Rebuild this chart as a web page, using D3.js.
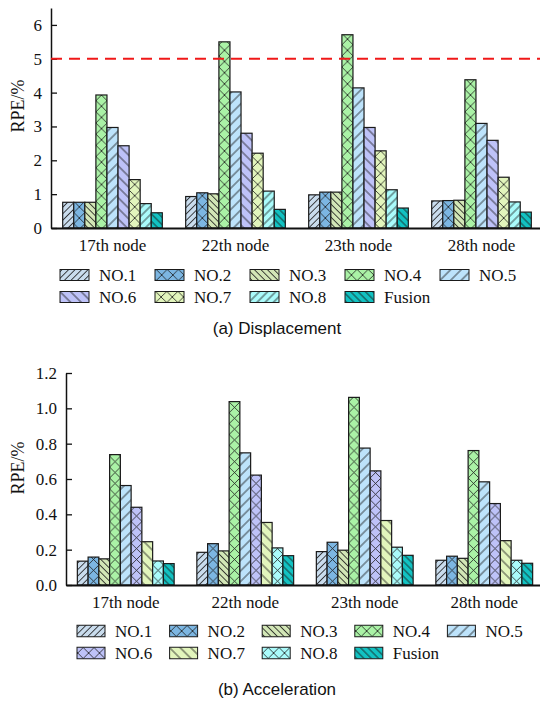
<!DOCTYPE html>
<html lang="en">
<head>
    <meta charset="UTF-8"/>
    <title>RPE bar charts</title>
    <script src="https://d3js.org/d3.v7.min.js"></script>
    <style>
        body { margin: 0; background: #fff; }
        .serif { font-family: "Liberation Serif", "Times New Roman", serif; }
        .sans { font-family: "Liberation Sans", Arial, sans-serif; }
    </style>
</head>
<body>
    <div id="chart"></div>

    <script>
        // categories and series
        var categories = ["17th node", "22th node", "23th node", "28th node"];
        var seriesNames = ["NO.1", "NO.2", "NO.3", "NO.4", "NO.5", "NO.6", "NO.7", "NO.8", "Fusion"];

        // values, one row per series, one column per node
        var displacement = [
            [0.76, 0.93, 0.98, 0.80],
            [0.76, 1.04, 1.06, 0.81],
            [0.76, 1.01, 1.06, 0.82],
            [3.93, 5.50, 5.71, 4.38],
            [2.97, 4.02, 4.14, 3.09],
            [2.43, 2.80, 2.97, 2.59],
            [1.43, 2.21, 2.28, 1.50],
            [0.72, 1.09, 1.13, 0.77],
            [0.45, 0.55, 0.59, 0.47]
        ];
        var acceleration = [
            [0.135, 0.185, 0.189, 0.140],
            [0.158, 0.234, 0.242, 0.163],
            [0.148, 0.193, 0.197, 0.151],
            [0.738, 1.038, 1.062, 0.761],
            [0.563, 0.748, 0.775, 0.584],
            [0.440, 0.622, 0.646, 0.461],
            [0.245, 0.354, 0.365, 0.251],
            [0.136, 0.210, 0.214, 0.140],
            [0.121, 0.166, 0.168, 0.123]
        ];

        // tick labels
        var dispTicks = [0, 1, 2, 3, 4, 5, 6];
        var accTicks = [0.0, 0.2, 0.4, 0.6, 0.8, 1.0, 1.2];
        var limitValue = 5;

        // fills
        var seriesColors = ["#c9dced", "#7cb6e2", "#d2e6b6", "#aaf2a6", "#bde3fb",
                            "#bec2f8", "#e2f5bc", "#aafbfb", "#12c2c2"];
        var dispPatterns = ["fwd1", "cross", "back1", "cross", "fwd2", "back2", "cross", "fwd3", "back3"];
        var accPatterns  = ["fwd1", "cross", "back1", "cross", "fwd2", "cross", "back2", "cross", "back3"];
        var hatchGap = { fwd1: 4.6, fwd2: 7.5, fwd3: 5.8, back1: 4.6, back2: 7.5, back3: 5.2 };

        var w = 540;
        var h = 705;

        var svg = d3.select("#chart")
                    .append("svg")
                    .attr("width", w)
                    .attr("height", h);

        var defs = svg.append("defs");

        function makePattern(id, kind, color, tile, xOff) {
            var p = defs.append("pattern")
                        .attr("id", id)
                        .attr("patternUnits", "userSpaceOnUse");
            if (kind === "cross") {
                p.attr("x", xOff).attr("y", 0)
                 .attr("width", tile).attr("height", tile);
                p.append("rect").attr("width", tile).attr("height", tile).attr("fill", color);
                p.append("path")
                 .attr("d", "M0,0L" + tile + "," + tile + "M" + tile + ",0L0," + tile)
                 .attr("stroke", "#1a1a1a").attr("stroke-width", 0.8);
            } else {
                var s = hatchGap[kind];
                var ang = kind.indexOf("fwd") === 0 ? 45 : -45;
                p.attr("width", s).attr("height", s)
                 .attr("patternTransform", "rotate(" + ang + ")");
                p.append("rect").attr("width", s).attr("height", s).attr("fill", color);
                p.append("line")
                 .attr("x1", s / 2).attr("x2", s / 2)
                 .attr("y1", 0).attr("y2", s)
                 .attr("stroke", "#1a1a1a").attr("stroke-width", 0.8);
            }
        }

        function drawPanel(cfg) {
            var x0 = d3.scaleBand()
                        .domain(categories)
                        .range([cfg.left, cfg.right]);

            var x1 = d3.scaleBand()
                        .domain(seriesNames)
                        .range([x0.bandwidth() * 0.095, x0.bandwidth() * 0.905]);

            var y = d3.scaleLinear()
                        .domain([0, cfg.max])
                        .range([cfg.bottom, cfg.top]);

            // one pattern per series; cross tiles sized so they line up in every group
            var tile = x0.step() / 11;
            seriesNames.forEach(function(s, i) {
                makePattern(cfg.id + i, cfg.patterns[i], seriesColors[i], tile,
                            x0(categories[0]) + x1(s));
            });

            var bars = [];
            cfg.values.forEach(function(row, i) {
                row.forEach(function(v, j) {
                    bars.push({ s: seriesNames[i], c: categories[j], v: v, i: i });
                });
            });

            var g = svg.append("g");

            g.selectAll("rect")
                .data(bars)
                .enter()
                .append("rect")
                .attr("x", function(d) { return x0(d.c) + x1(d.s); })
                .attr("y", function(d) { return y(d.v); })
                .attr("width", x1.bandwidth())
                .attr("height", function(d) { return y(0) - y(d.v); })
                .attr("fill", function(d) { return "url(#" + cfg.id + d.i + ")"; })
                .attr("stroke", "#1a1a1a")
                .attr("stroke-width", 1.2);

            // y axis, ticks pointing inward
            var yAxis = svg.append("g")
                .attr("transform", "translate(" + cfg.left + ",0)")
                .call(d3.axisLeft(y)
                        .tickValues(cfg.ticks)
                        .tickFormat(cfg.fmt)
                        .tickSize(-6)
                        .tickSizeOuter(0)
                        .tickPadding(9));
            yAxis.attr("font-family", "Liberation Serif, Times New Roman, serif");
            yAxis.selectAll("text").attr("font-size", 17).attr("fill", "#111");
            yAxis.selectAll("line").attr("stroke", "#111").attr("stroke-width", 1.3);
            yAxis.select(".domain").attr("stroke", "#111").attr("stroke-width", 1.5);

            // x axis
            var xAxis = svg.append("g")
                .attr("transform", "translate(0," + cfg.bottom + ")")
                .call(d3.axisBottom(x0).tickSize(0).tickPadding(11));
            xAxis.attr("font-family", "Liberation Serif, Times New Roman, serif");
            xAxis.selectAll("text").attr("font-size", 17).attr("fill", "#111");
            xAxis.select(".domain").attr("stroke", "#111").attr("stroke-width", 2);

            if (cfg.limit !== undefined) {
                svg.append("line")
                    .attr("x1", cfg.left)
                    .attr("x2", w)
                    .attr("y1", y(cfg.limit))
                    .attr("y2", y(cfg.limit))
                    .attr("stroke", "#f01818")
                    .attr("stroke-width", 2)
                    .attr("stroke-dasharray", "11,7");
            }

            svg.append("text")
                .attr("class", "serif")
                .attr("transform", "translate(" + cfg.labelX + "," + cfg.labelY + ") rotate(-90)")
                .attr("text-anchor", "middle")
                .attr("dy", "0.35em")
                .attr("font-size", 18)
                .attr("fill", "#111")
                .text("RPE/%");

            // legend, five per row
            var leg = svg.append("g").attr("class", "serif");
            var item = leg.selectAll("g")
                .data(seriesNames)
                .enter()
                .append("g")
                .attr("transform", function(d, i) {
                    return "translate(" + (cfg.legX + (i % 5) * cfg.legStep) + "," +
                           (cfg.legY + Math.floor(i / 5) * cfg.legRow) + ")";
                });

            item.append("rect")
                .attr("x", 0)
                .attr("y", -cfg.swH / 2)
                .attr("width", cfg.swW)
                .attr("height", cfg.swH)
                .attr("fill", function(d, i) { return "url(#" + cfg.id + i + ")"; })
                .attr("stroke", "#1a1a1a")
                .attr("stroke-width", 1);

            item.append("text")
                .attr("x", cfg.legText)
                .attr("dy", "0.35em")
                .attr("font-size", 17)
                .attr("fill", "#111")
                .text(function(d) { return d; });

            svg.append("text")
                .attr("class", "sans")
                .attr("x", 277)
                .attr("y", cfg.captionY)
                .attr("text-anchor", "middle")
                .attr("font-size", 17)
                .attr("fill", "#111")
                .text(cfg.caption);
        }

        drawPanel({
            id: "disp", values: displacement, patterns: dispPatterns,
            max: 6.5, ticks: dispTicks, fmt: d3.format("d"), limit: limitValue,
            left: 51, right: 543, top: 8, bottom: 228,
            labelX: 18, labelY: 106,
            legX: 60, legY: 275, legStep: 95, legRow: 22, swW: 29, swH: 11, legText: 39,
            caption: "(a) Displacement", captionY: 334
        });

        drawPanel({
            id: "acc", values: acceleration, patterns: accPatterns,
            max: 1.2, ticks: accTicks, fmt: d3.format(".1f"),
            left: 66, right: 544, top: 373, bottom: 585,
            labelX: 18, labelY: 468,
            legX: 77, legY: 631, legStep: 92.6, legRow: 22, swW: 28, swH: 11.5, legText: 38,
            caption: "(b) Acceleration", captionY: 695
        });
    </script>
</body>
</html>
